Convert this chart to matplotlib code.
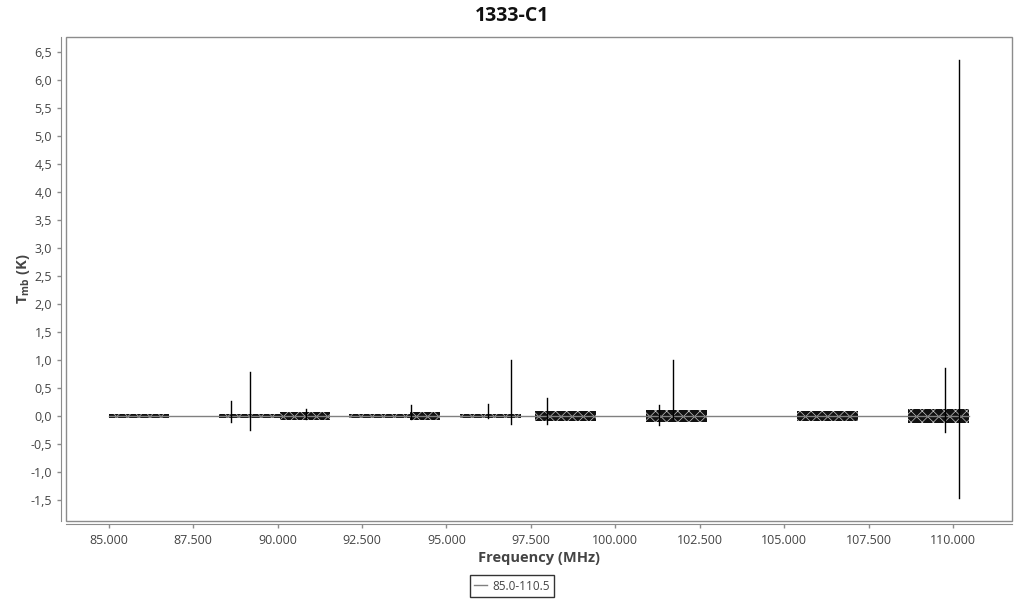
import matplotlib
matplotlib.use("Agg")
import matplotlib.pyplot as plt
from matplotlib.patches import Rectangle
from matplotlib.ticker import FuncFormatter, MultipleLocator

plt.rcParams["font.family"] = ["Open Sans", "DejaVu Sans"]
plt.rcParams["mathtext.fontset"] = "custom"
plt.rcParams["mathtext.rm"] = "Open Sans"
plt.rcParams["mathtext.bf"] = "Open Sans:bold"
plt.rcParams["hatch.linewidth"] = 0.5

# noise blocks of the spectrum (MHz) and their half-amplitude (K)
noise_lo = [85000, 88258, 90065, 92109, 93916, 95397, 97619, 100906, 105379, 108667]
noise_hi = [86777, 90065, 91546, 93916, 94805, 97204, 99425, 102713, 107186, 110474]
noise_amp = [0.035, 0.04, 0.07, 0.035, 0.07, 0.035, 0.09, 0.115, 0.085, 0.12]

# line peaks (MHz), max and min (K)
peak_freq = [88614, 89177, 90850, 93946, 96226, 96908, 97974, 101292, 101706, 109763, 110178]
peak_top = [0.27, 0.79, 0.12, 0.20, 0.21, 1.00, 0.32, 0.20, 1.00, 0.86, 6.36]
peak_bot = [-0.10, -0.25, -0.05, -0.05, -0.03, -0.15, -0.15, -0.16, -0.05, -0.29, -1.47]

xticks = [85000, 87500, 90000, 92500, 95000, 97500, 100000, 102500, 105000, 107500, 110000]

fig = plt.figure(figsize=(10.24, 6.0), dpi=100)
ax = fig.add_axes([66 / 1024, 1 - 521 / 600, 946 / 1024, 484 / 600])

ax.set_xlim(83730, 111750)
ax.set_ylim(-1.875, 6.77)

# baseline connecting the blocks
line, = ax.plot([noise_lo[0], noise_hi[-1]], [0, 0], color="#808080", lw=1, label="85.0-110.5")

# noise drawn as textured bands
for lo, hi, a in zip(noise_lo, noise_hi, noise_amp):
    ax.fill_between([lo, hi], [-a, -a], [a, a], facecolor="#111111", edgecolor="#c8c8c8",
                    hatch="xxx", lw=0)

for f, t, b in zip(peak_freq, peak_top, peak_bot):
    ax.plot([f, f], [b, t], color="black", lw=1)

# frame box
for s in ax.spines.values():
    s.set_visible(False)
ax.add_patch(Rectangle((0, 0), 1, 1, transform=ax.transAxes, fill=False,
                       edgecolor="#8c8c8c", lw=1, clip_on=False))
ax.spines["left"].set_visible(True)
ax.spines["bottom"].set_visible(True)
ax.spines["left"].set_position(("outward", 3.6))
ax.spines["bottom"].set_position(("outward", 2.5))
ax.spines["left"].set_color("#8c8c8c")
ax.spines["bottom"].set_color("#8c8c8c")

ax.set_xticks(xticks)
ax.xaxis.set_major_formatter(FuncFormatter(lambda v, p: f"{v:,.0f}".replace(",", ".")))
ax.yaxis.set_major_locator(MultipleLocator(0.5))
ax.yaxis.set_major_formatter(FuncFormatter(lambda v, p: f"{v:.1f}".replace(".", ",")))
ax.tick_params(colors="#8c8c8c", labelcolor="#444444", labelsize=9, length=3, width=1)

ax.set_xlabel("Frequency (MHz)", fontsize=10.5, fontweight="bold", color="#444444", labelpad=3)
ax.set_ylabel(r"$\mathbf{T}_{\mathbf{mb}}$ (K)", fontsize=10.5, fontweight="bold",
              color="#444444", labelpad=-1)
fig.suptitle("1333-C1", fontsize=14, fontweight="bold", y=0.99, color="#111111")

leg = fig.legend(handles=[line], loc="center", bbox_to_anchor=(0.5, 1 - 586 / 600),
                 fontsize=8.5, frameon=True, fancybox=False, handlelength=1.1,
                 handletextpad=0.4, borderpad=0.35, borderaxespad=0)
leg.get_frame().set_edgecolor("black")
leg.get_frame().set_linewidth(1)
for t in leg.get_texts():
    t.set_color("#444444")

fig.savefig("out.png", dpi=100)
